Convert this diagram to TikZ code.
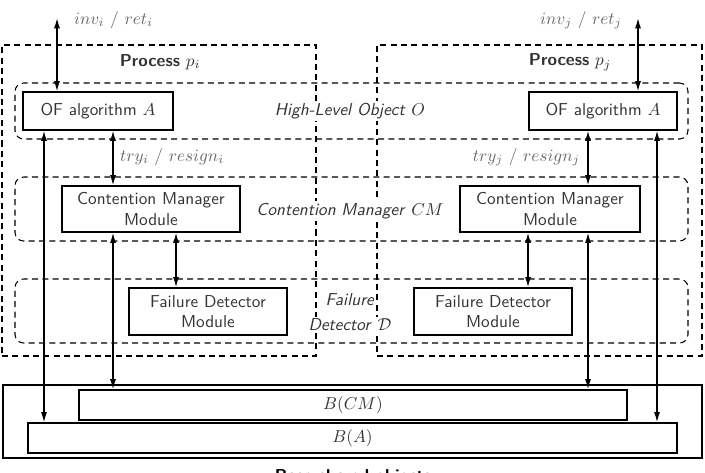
\documentclass[tikz,border=0pt]{standalone}
\usetikzlibrary{fit,arrows.meta}
\begin{document}
\begin{tikzpicture}[x=0.58pt,y=-0.58pt, font=\sffamily,
 box/.style={draw, line width=0.7pt, inner sep=0pt, align=center, text=black!80},
 dbox/.style={draw, line width=0.6pt, inner sep=0pt, dash pattern=on 3.5pt off 2.5pt},
 rdbox/.style={dbox, rounded corners=5pt},
 arr/.style={{Latex[length=6pt,width=3.5pt]}-{Latex[length=6pt,width=3.5pt]}, line width=0.8pt},
 lab/.style={text=black!60, inner sep=1pt},
 zlab/.style={fill=white, inner sep=1pt, text=black!80}]
\useasboundingbox (0,0) rectangle (705,472);
% dashed containers
\node[dbox, fit={(2,45)(316,356)}] (pi) {};
\node[dbox, fit={(377,45)(702,356)}] (pj) {};
\node[rdbox, fit={(15,83)(688,139)}] (hlo) {};
\node[rdbox, fit={(15,177)(688,241)}] (cmz) {};
\node[rdbox, fit={(15,279)(688,343)}] (fdz) {};
% zone labels
\node[zlab] (pil) at (160,62) {\textbf{Process} $p_i$};
\node[zlab] (pjl) at (570,62) {\textbf{Process} $p_j$};
\node[zlab] (hlol) at (350,111) {\textit{High-Level Object} $O$};
\node[zlab] (cml) at (350,211) {\textit{Contention Manager} $CM$};
\node[zlab] (fdl1) at (350,300) {\textit{Failure}};
\node[zlab] (fdl2) at (350,325) {\textit{Detector} $\mathcal{D}$};
% solid boxes
\node[box, minimum width=87pt, minimum height=22pt] (ofi) at (98,111) {OF algorithm $A$};
\node[box, minimum width=85.8pt, minimum height=22pt] (ofj) at (603,111) {OF algorithm $A$};
\node[box, minimum width=103.2pt, minimum height=26.7pt] (cmi) at (151,209) {Contention Manager\\Module};
\node[box, minimum width=104.4pt, minimum height=26.7pt] (cmj) at (550,209) {Contention Manager\\Module};
\node[box, minimum width=91.6pt, minimum height=27.3pt] (fdi) at (208,311.5) {Failure Detector\\Module};
\node[box, minimum width=91.6pt, minimum height=27.3pt] (fdj) at (493,311.5) {Failure Detector\\Module};
\node[box, minimum width=405.4pt, minimum height=42.3pt] (base) at (352.5,421.5) {};
\node[box, minimum width=317.8pt, minimum height=17.4pt] (bcm) at (353,405) {$B(CM)$};
\node[box, minimum width=376.4pt, minimum height=17.4pt] (ba) at (352.5,438) {$B(A)$};
\node (basel) at (353,477) {\textbf{Base shared objects}};
% coordinates
\coordinate (ti) at (57,18);
\coordinate (tj) at (638,18);
\coordinate (xa) at (44,0);
\coordinate (xb) at (113,0);
\coordinate (xc) at (176,0);
\coordinate (xd) at (588,0);
\coordinate (xe) at (657,0);
\coordinate (xf) at (528,0);
% connectors
\draw[arr] (ti) -- (ofi.north -| ti);
\draw[arr] (tj) -- (ofj.north -| tj);
\draw[arr] (ofi.south -| xa) -- (ba.north -| xa);
\draw[arr] (ofi.south -| xb) -- (cmi.north -| xb);
\draw[arr] (cmi.south -| xb) -- (bcm.north -| xb);
\draw[arr] (cmi.south -| xc) -- (fdi.north -| xc);
\draw[arr] (ofj.south -| xd) -- (cmj.north -| xd);
\draw[arr] (cmj.south -| xd) -- (bcm.north -| xd);
\draw[arr] (ofj.south -| xe) -- (ba.north -| xe);
\draw[arr] (cmj.south -| xf) -- (fdj.north -| xf);
% connector labels
\node[lab, anchor=west] (invi) at (72,20) {$inv_i$ / $ret_i$};
\node[lab, anchor=east] (invj) at (624,20) {$inv_j$ / $ret_j$};
\node[lab, anchor=west] (tryi) at (118,157) {$try_i$ / $resign_i$};
\node[lab, anchor=east] (tryj) at (582,157) {$try_j$ / $resign_j$};
\end{tikzpicture}
\end{document}
